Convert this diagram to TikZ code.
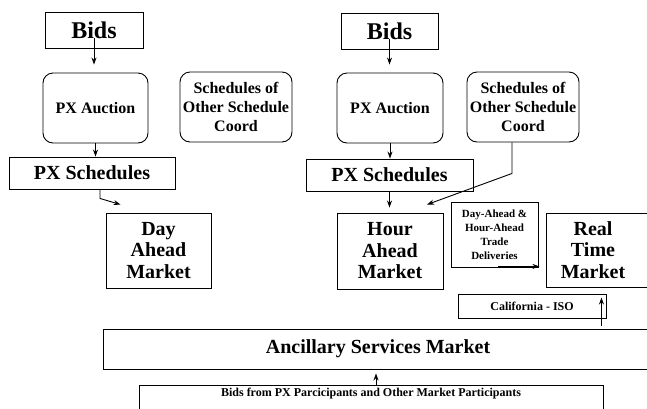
\documentclass[tikz,border=0pt]{standalone}
\usepackage{fontspec}
\setmainfont{Liberation Serif}
\usetikzlibrary{arrows.meta,calc}
\begin{document}
\begin{tikzpicture}[x=1pt,y=-1pt,
  box/.style={draw, line width=0.9pt, inner sep=0pt, align=center},
  rbox/.style={box, rounded corners=10pt},
  fbig/.style={font=\bfseries\fontsize{24}{26}\selectfont},
  fmid/.style={font=\bfseries\fontsize{20}{21.5}\selectfont},
  fsml/.style={font=\bfseries\fontsize{16}{19}\selectfont},
  ftiny/.style={font=\bfseries\fontsize{11}{14}\selectfont},
  fcal/.style={font=\bfseries\fontsize{12}{14}\selectfont},
  arr/.style={-{Stealth[length=7pt,width=5pt]}, line width=0.9pt},
  ]
\useasboundingbox (0,0) rectangle (647,408);
\fill[white] (0,0) rectangle (647,408);

% left column
\node[box, fbig, minimum width=98, minimum height=36] (bidsL) at (94,30) {Bids};
\node[rbox, fsml, minimum width=105, minimum height=70] (auxL) at (95.5,108) {PX Auction};
\node[rbox, fsml, minimum width=112, minimum height=70] (schL) at (236,107) {Schedules of\\Other Schedule\\Coord};
\node[box, fmid, minimum width=166, minimum height=32] (pxsL) at (92,173) {PX Schedules};
\node[box, fmid, minimum width=105, minimum height=75] (dayL) at (158.5,250.5) {Day\\Ahead\\Market};

% right column
\node[box, fbig, minimum width=97, minimum height=36] (bidsR) at (389.5,31) {Bids};
\node[rbox, fsml, minimum width=106, minimum height=70] (auxR) at (390,108) {PX Auction};
\node[rbox, fsml, minimum width=112, minimum height=70] (schR) at (523,107) {Schedules of\\Other Schedule\\Coord};
\node[box, fmid, minimum width=167, minimum height=32] (pxsR) at (389.5,175) {PX Schedules};
\node[box, fmid, minimum width=106, minimum height=76] (hourR) at (390,251) {Hour\\Ahead\\Market};
\node[box, ftiny, minimum width=87, minimum height=65] (tradeR) at (494.5,234.5) {Day-Ahead \&\\Hour-Ahead\\Trade\\Deliveries};
\node[box, minimum width=106, minimum height=74] (realR) at (599,250) {};
\node[fmid, align=center, inner sep=0pt] (realT) at (593,250) {Real\\Time\\Market};
\node[box, fcal, minimum width=148, minimum height=24] (calR) at (532,306) {California - ISO};

% bottom
\node[box, fmid, minimum width=550, minimum height=40] (ancR) at (378,349) {Ancillary Services Market};
\node[box, minimum width=464, minimum height=40] (bidsPX) at (371,405) {};
\node[fcal, inner sep=0pt] (bidsPXT) at (371,394) {Bids from PX Parcicipants and Other Market Participants};

% connectors
\draw[arr, shorten <=-10pt, shorten >=8pt] (bidsL.south) -- (bidsL.south |- auxL.north);
\draw[arr] (auxL.south) -- (auxL.south |- pxsL.north);
\draw[arr] ($(pxsL.south)+(8,0)$) -- ++(0,9) -- ($(dayL.north)+(-38,-8)$);

\draw[arr, shorten <=-10pt, shorten >=8pt] (bidsR.south) -- (bidsR.south |- auxR.north);
\draw[arr] (auxR.south) -- (auxR.south |- pxsR.north);
\draw[arr, shorten >=5pt] (pxsR.south) -- (pxsR.south |- hourR.north);
\draw[arr] ($(schR.south)+(-11,0)$) -- ++(0,31) -- ($(hourR.north)+(37,-8)$);

\draw[arr] ($(tradeR.south east)+(-40,-1)$) -- ($(tradeR.south east)+(1,-1)$);
\draw[arr, shorten <=3pt] ($(calR.north east |- ancR.north)+(-5,0)$) -- ($(calR.north east)+(-5,4)$);
\draw[arr] ($(bidsPX.north)+(5,0)$) -- ($(bidsPX.north |- ancR.south)+(5,4)$);
\end{tikzpicture}
\end{document}
